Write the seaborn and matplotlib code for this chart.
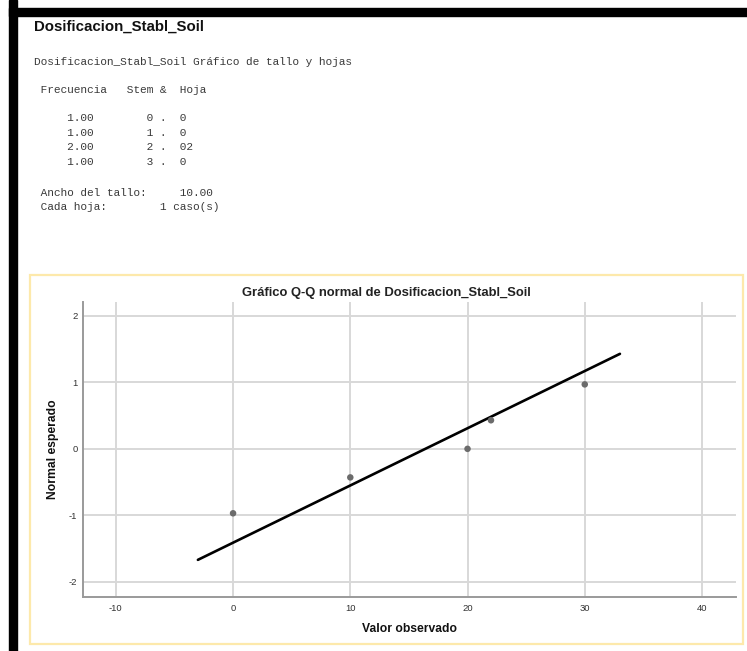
import numpy as np
import pandas as pd
import matplotlib
matplotlib.use("Agg")
import matplotlib.pyplot as plt
from matplotlib.patches import Rectangle
import seaborn as sns

# Observed values and their expected normal scores
observed = [0, 10, 20, 22, 30]
expected_normal = [-0.97, -0.43, 0.0, 0.43, 0.97]

x_ticks = [-10, 0, 10, 20, 30, 40]
y_ticks = [-2, -1, 0, 1, 2]

# Stem-and-leaf listing
freq = ["1.00", "1.00", "2.00", "1.00"]
stems = ["0", "1", "2", "3"]
leaves = ["0", "0", "02", "0"]

W, H = 747, 651
sns.set_theme(style="white")
plt.rcParams["font.family"] = ["Liberation Sans", "DejaVu Sans"]

fig = plt.figure(figsize=(W / 100, H / 100), dpi=100)


def fx(x):
    return x / W


def fy(y):
    return 1 - y / H


# window frame bars
fig.patches.append(Rectangle((fx(9), fy(651)), fx(8), 651 / H, transform=fig.transFigure,
                             color="black", zorder=0))
fig.patches.append(Rectangle((fx(9), fy(16)), fx(738), 8 / H, transform=fig.transFigure,
                             color="black", zorder=0))
# chart frame
fig.patches.append(Rectangle((fx(29.5), fy(643.5)), fx(713), 368.5 / H, transform=fig.transFigure,
                             fill=False, edgecolor="#fde9ab", linewidth=1.6, zorder=0))

fig.text(fx(34), fy(27), "Dosificacion_Stabl_Soil", fontsize=10.8, fontweight="bold",
         va="center", ha="left", color="#111111")

mono = dict(family=["Liberation Mono", "DejaVu Sans Mono"], fontsize=8.0, color="#3a3a3a",
            va="center", ha="left")
fig.text(fx(34), fy(61.7), "Dosificacion_Stabl_Soil Gráfico de tallo y hojas", **mono)
fig.text(fx(34), fy(90), " Frecuencia   Stem &  Hoja", **mono)
for i, (f, s, l) in enumerate(zip(freq, stems, leaves)):
    line = f"     {f}        {s} .  {l}"
    fig.text(fx(34), fy(118 + i * 14.6), line, **mono)
fig.text(fx(34), fy(192.7), " Ancho del tallo:     10.00", **mono)
fig.text(fx(34), fy(207.3), " Cada hoja:        1 caso(s)", **mono)

# Q-Q plot
ax = fig.add_axes([fx(83), fy(597), fx(736 - 83), (597 - 302) / H])
df = pd.DataFrame({"obs": observed, "exp": expected_normal})

mu = np.mean(observed)
sd = np.std(observed, ddof=1)
span = max(observed) - min(observed)
xl = np.array([min(observed) - 0.1 * span, max(observed) + 0.1 * span])
line_df = pd.DataFrame({"x": xl, "y": (xl - mu) / sd})
sns.lineplot(data=line_df, x="x", y="y", ax=ax, color="black", linewidth=1.9, zorder=3)
sns.scatterplot(data=df, x="obs", y="exp", ax=ax, color="#6b6b6b", s=22, edgecolor="none",
                zorder=4)

ax.set_xlim(-12.8, 42.9)
ax.set_ylim(-2.23, 2.21)
ax.set_xticks(x_ticks)
ax.set_yticks(y_ticks)
ax.set_xticklabels([str(t) for t in x_ticks])
ax.set_yticklabels([str(t) for t in y_ticks])
ax.grid(True, color="#d8d8d8", linewidth=1.4)
ax.set_axisbelow(True)
for s in ["top", "right"]:
    ax.spines[s].set_visible(False)
for s in ["left", "bottom"]:
    ax.spines[s].set_color("#9a9a9a")
    ax.spines[s].set_linewidth(1.4)
ax.tick_params(axis="both", length=0, labelsize=6.8, labelcolor="#333333")
ax.tick_params(axis="x", pad=5)
ax.tick_params(axis="y", pad=4)
ax.set_xlabel("Valor observado", fontsize=8.7, fontweight="bold", color="#111111", labelpad=7)
ax.set_ylabel("Normal esperado", fontsize=8.7, fontweight="bold", color="#111111", labelpad=7)
fig.text(fx(386.5), fy(292.7), "Gráfico Q-Q normal de Dosificacion_Stabl_Soil", fontsize=9.4,
         fontweight="bold", ha="center", va="center", color="#222222")

fig.savefig("out.png", dpi=100, facecolor="white")
